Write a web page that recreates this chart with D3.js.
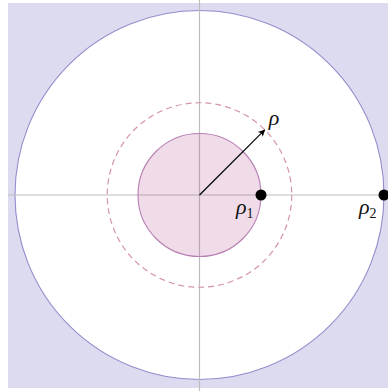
<!DOCTYPE html>
<html>
<head>
<meta charset="utf-8">
<script src="https://cdn.jsdelivr.net/npm/d3@7"></script>
<style>
  html, body { margin: 0; padding: 0; background: #ffffff; }
  svg { display: block; }
  .lbl { font-family: "Liberation Serif", "DejaVu Serif", serif; font-style: italic; fill: #111; }
</style>
</head>
<body>
<script>
// Radii of the three circles (in units of rho1)
const radiusNames = ["rho1", "rho", "rho2"];
const radiusValues = [1, 1.5, 3];
// Direction of the rho arrow (degrees, counter-clockwise from +x)
const arrowAngle = [45];
// Points marked on the horizontal axis
const markerNames = ["rho1", "rho2"];
const markerSubs = ["1", "2"];

const W = 388, H = 391;
const svg = d3.select("body").append("svg").attr("width", W).attr("height", H);

// Plane coordinates: -3..3 in both directions
const x = d3.scaleLinear().domain([-3, 3]).range([15, 384]);
const y = d3.scaleLinear().domain([-3, 3]).range([379, 11]);
const r = d3.scaleLinear().domain([0, 3]).range([0, x(3) - x(0)]);
const R = Object.fromEntries(radiusNames.map((n, i) => [n, radiusValues[i]]));

// Shaded outer region
svg.append("rect").attr("x", 8).attr("y", 3).attr("width", W - 8).attr("height", 385)
  .attr("fill", "#dddbf0");

// Outer circle (rho2)
svg.append("circle").attr("cx", x(0)).attr("cy", y(0)).attr("r", r(R.rho2))
  .attr("fill", "#ffffff").attr("stroke", "#938dcc").attr("stroke-width", 1.1);

// Axes
svg.append("line").attr("x1", 8).attr("x2", W).attr("y1", y(0)).attr("y2", y(0))
  .attr("stroke", "#bdbdbd").attr("stroke-width", 1.2);
svg.append("line").attr("x1", x(0)).attr("x2", x(0)).attr("y1", 0).attr("y2", H)
  .attr("stroke", "#bdbdbd").attr("stroke-width", 1.2);

// Inner disc (rho1)
svg.append("circle").attr("cx", x(0)).attr("cy", y(0)).attr("r", r(R.rho1))
  .attr("fill", "#b5518f").attr("fill-opacity", 0.2)
  .attr("stroke", "#b77fb3").attr("stroke-width", 1.1);

// Dashed circle (rho)
svg.append("circle").attr("cx", x(0)).attr("cy", y(0)).attr("r", r(R.rho))
  .attr("fill", "none").attr("stroke", "#d493b0").attr("stroke-width", 1.2)
  .attr("stroke-dasharray", "6,4");

// Arrow of length rho
const defs = svg.append("defs");
defs.append("marker").attr("id", "ah").attr("viewBox", "0 0 10 10")
  .attr("refX", 9).attr("refY", 5).attr("markerWidth", 9).attr("markerHeight", 7)
  .attr("markerUnits", "userSpaceOnUse").attr("orient", "auto")
  .append("path").attr("d", "M0,0 L10,5 L0,10 L2.5,5 Z").attr("fill", "#000");
const a = arrowAngle[0] * Math.PI / 180;
svg.append("line").attr("x1", x(0)).attr("y1", y(0))
  .attr("x2", x(R.rho * Math.cos(a))).attr("y2", y(R.rho * Math.sin(a)))
  .attr("stroke", "#000").attr("stroke-width", 1.2).attr("marker-end", "url(#ah)");
svg.append("text").attr("class", "lbl")
  .attr("x", x(R.rho * Math.cos(a)) + 4).attr("y", y(R.rho * Math.sin(a)) - 5)
  .attr("font-size", 22).text("ρ");

// Marked points on the axis
markerNames.forEach((n, i) => {
  const px = x(R[n]);
  svg.append("circle").attr("cx", px).attr("cy", y(0)).attr("r", 5.5).attr("fill", "#000");
  const t = svg.append("text").attr("class", "lbl").attr("x", px - 25).attr("y", y(0) + 19)
    .attr("font-size", 22).text("ρ");
  t.append("tspan").attr("font-style", "normal").attr("font-size", 14).attr("dy", 4)
    .text(markerSubs[i]);
});
</script>
</body>
</html>
